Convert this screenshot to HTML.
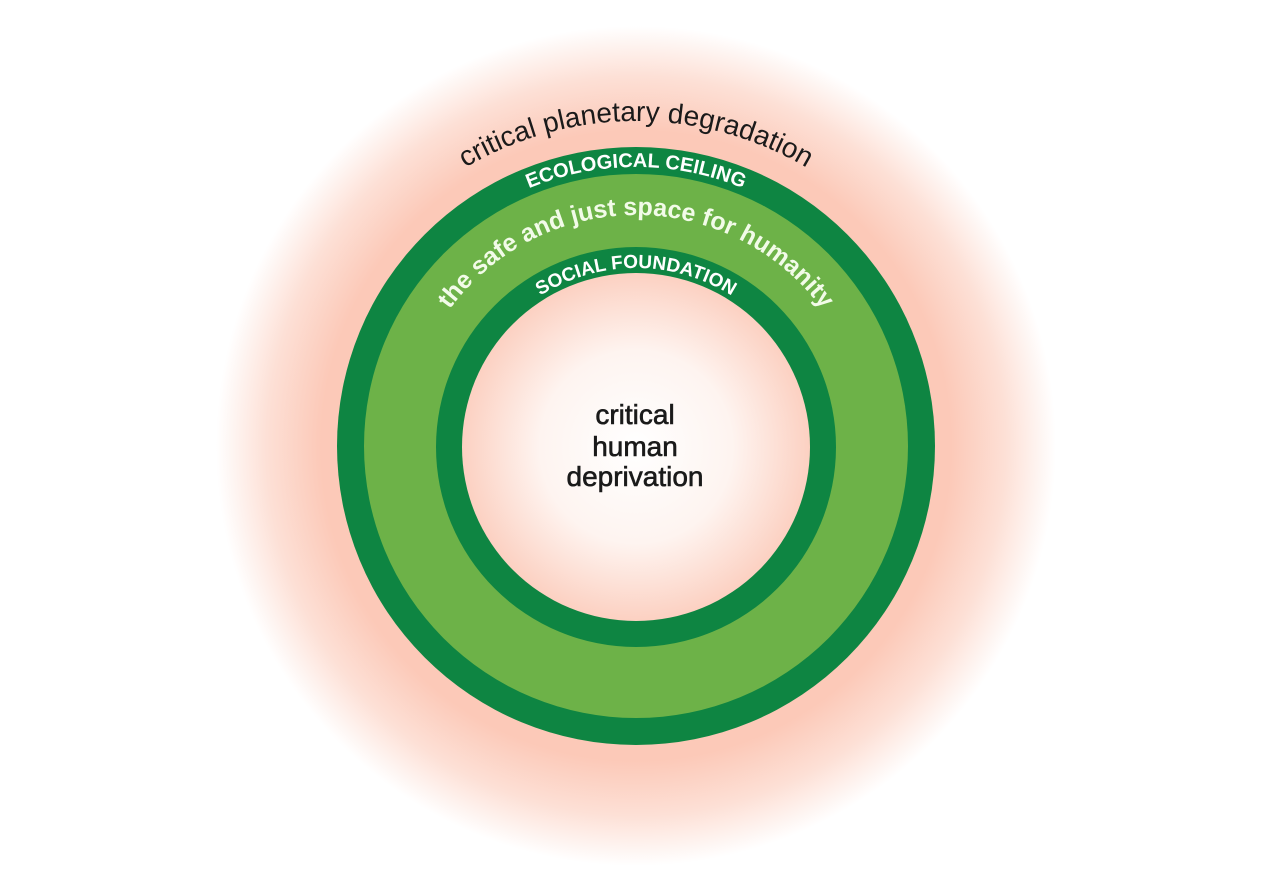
<!DOCTYPE html>
<html><head><meta charset="utf-8"><style>html,body{margin:0;padding:0;background:#fff;width:1280px;height:894px;overflow:hidden}</style></head>
<body>
<svg width="1280" height="894" viewBox="0 0 1280 894" xmlns="http://www.w3.org/2000/svg">
<defs>
<radialGradient id="glow" cx="636" cy="446" r="420" gradientUnits="userSpaceOnUse">
<stop offset="0" stop-color="#fbc4b2"/>
<stop offset="0.75" stop-color="#fcc9b8"/>
<stop offset="0.88" stop-color="#fde0d6"/>
<stop offset="1" stop-color="#ffffff"/>
</radialGradient>
<radialGradient id="inner" cx="636" cy="447" r="175" gradientUnits="userSpaceOnUse">
<stop offset="0" stop-color="#ffffff"/>
<stop offset="0.55" stop-color="#fef4f0"/>
<stop offset="1" stop-color="#fcd0c1"/>
</radialGradient>
<path id="p1" d="M 301,456 A 335,335 0 0 1 971,456"/>
<path id="p2" d="M 357,446 A 279,279 0 0 1 915,446"/>
<path id="p3" d="M 405,446 A 231,231 0 0 1 867,446"/>
<path id="p4" d="M 457,447 A 179,179 0 0 1 815,447"/>
</defs>
<rect width="1280" height="894" fill="#fff"/>
<circle cx="636" cy="446" r="420" fill="url(#glow)"/>
<circle cx="636" cy="446" r="299" fill="#0e8542"/>
<circle cx="636" cy="446" r="272" fill="#6db248"/>
<circle cx="636" cy="447" r="200" fill="#0e8542"/>
<circle cx="636" cy="447" r="174" fill="url(#inner)"/>
<g font-family="Liberation Sans, sans-serif" text-anchor="middle">
<text font-size="28" fill="#1a1a1a"><textPath href="#p1" startOffset="50%">critical planetary degradation</textPath></text>
<text font-size="20" font-weight="bold" fill="#fff"><textPath href="#p2" startOffset="50%">ECOLOGICAL CEILING</textPath></text>
<text font-size="25" font-weight="bold" fill="#f2fbe8"><textPath href="#p3" startOffset="50%">the safe and just space for humanity</textPath></text>
<text font-size="19" font-weight="bold" fill="#fff"><textPath href="#p4" startOffset="50%">SOCIAL FOUNDATION</textPath></text>
<g font-size="28" fill="#1a1a1a" stroke="#1a1a1a" stroke-width="0.6">
<text x="635" y="424">critical</text>
<text x="635" y="456">human</text>
<text x="635" y="486">deprivation</text>
</g>
</g>
</svg>
</body></html>
